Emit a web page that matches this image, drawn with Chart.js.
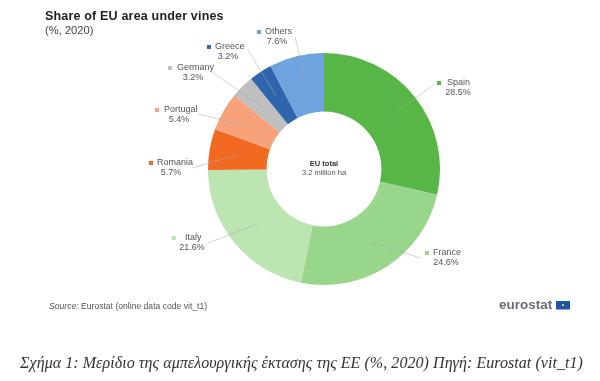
<!DOCTYPE html>
<html><head><meta charset="utf-8">
<style>html,body{margin:0;padding:0;background:#fff}#w{width:600px;height:381px;position:relative}canvas{display:block;filter:blur(0.5px)}</style>
<script src="https://cdn.jsdelivr.net/npm/chart.js@4/dist/chart.umd.min.js"></script>
</head><body><div id="w"><canvas id="c" width="600" height="381"></canvas></div>
<script>
const categories = ["Spain","France","Italy","Romania","Portugal","Germany","Greece","Others"];
const shares = [28.5,24.6,21.6,5.7,5.4,3.2,3.2,7.6];
const sliceColours = ["#57b645","#98d68b","#bce5b2","#f26a21","#f7a27a","#bfbfbf","#2e65ad","#6fa3df"];
const titleText = "Share of EU area under vines";
const subtitleText = "(%, 2020)";
const centreLines = ["EU total","3.2 million ha"];
const captionText = "Σχήμα 1: Μερίδιο της αμπελουργικής έκτασης της ΕΕ (%, 2020) Πηγή: Eurostat (vit_t1)";

const labelLayout = {
  Spain:   {m:[439,83], n:447, v:458, y:83,  via:[[433,85],[417,97]]},
  France:  {m:[427,253],n:433, v:446, y:253, via:[[420,258]]},
  Italy:   {m:[174,238],n:185, v:192, y:238, via:[[208,243]]},
  Romania: {m:[151,163],n:157, v:171, y:163, via:[[192,168]]},
  Portugal:{m:[157,110],n:164, v:179, y:110, via:[[198,114]]},
  Germany: {m:[170,68], n:177, v:193, y:68,  via:[[212,72]]},
  Greece:  {m:[209,47], n:215, v:228, y:47,  via:[[248,50]]},
  Others:  {m:[259,32], n:265, v:277, y:32,  via:[[295,37],[299,53]]}
};

const annotate = {
  id:"annotate",
  afterDraw(chart){
    const ctx = chart.ctx, arcs = chart.getDatasetMeta(0).data;
    const sans = '"Liberation Sans", Arial, sans-serif';
    ctx.save();
    ctx.textBaseline = "middle";
    categories.forEach((name,i)=>{
      const L = labelLayout[name], p = arcs[i].tooltipPosition();
      ctx.beginPath();
      ctx.moveTo(L.via[0][0],L.via[0][1]);
      L.via.slice(1).forEach(q=>ctx.lineTo(q[0],q[1]));
      ctx.lineTo(p.x,p.y);
      ctx.strokeStyle = "rgba(170,170,170,0.65)";
      ctx.lineWidth = 0.8;
      ctx.stroke();
    });
    ctx.font = "9px "+sans;
    categories.forEach((name,i)=>{
      const L = labelLayout[name];
      ctx.fillStyle = sliceColours[i];
      ctx.fillRect(L.m[0]-2,L.m[1]-2,4,4);
      ctx.fillStyle = "#555";
      ctx.textAlign = "left";
      ctx.fillText(name,L.n,L.y);
      ctx.textAlign = "center";
      ctx.fillText(shares[i].toFixed(1)+"%",L.v,L.y+10);
    });
    const a = arcs[0];
    ctx.textAlign = "center";
    ctx.fillStyle = "#333";
    ctx.font = "bold 7.5px "+sans;
    ctx.fillText(centreLines[0],a.x,a.y-5);
    ctx.fillStyle = "#555";
    ctx.font = "7.5px "+sans;
    ctx.fillText(centreLines[1],a.x,a.y+4);
    ctx.textAlign = "left";
    ctx.fillStyle = "#222";
    ctx.font = "bold 12.5px "+sans;
    ctx.letterSpacing = "0.18px";
    ctx.fillText(titleText,45,17);
    ctx.letterSpacing = "0px";
    ctx.fillStyle = "#444";
    ctx.font = "11.2px "+sans;
    ctx.fillText(subtitleText,45,31);
    ctx.fillStyle = "#555";
    ctx.font = "italic 8.6px "+sans;
    ctx.fillText("Source:",49,307);
    const w = ctx.measureText("Source: ").width;
    ctx.font = "8.6px "+sans;
    ctx.fillText("Eurostat (online data code vit_t1)",49+w,307);
    ctx.fillStyle = "#6a6f76";
    ctx.font = "bold 13.5px "+sans;
    ctx.fillText("eurostat",499,305);
    ctx.fillStyle = "#1f55a5";
    ctx.fillRect(556,301,14,8.5);
    ctx.fillStyle = "#d9c84a";
    ctx.fillRect(562,304,2,2);
    ctx.fillStyle = "#333";
    ctx.font = 'italic 16px "Liberation Serif", serif';
    const cw = ctx.measureText(captionText).width;
    ctx.letterSpacing = ((563-cw)/captionText.length).toFixed(3)+"px";
    ctx.fillText(captionText,20,364);
    ctx.restore();
  }
};

new Chart(document.getElementById("c"),{
  type:"doughnut",
  data:{labels:categories,datasets:[{data:shares,backgroundColor:sliceColours,borderColor:sliceColours,borderWidth:0,hoverOffset:0}]},
  options:{
    responsive:false,animation:false,cutout:"49.5%",rotation:0,
    layout:{padding:{left:208,right:160,top:53,bottom:96}},
    plugins:{legend:{display:false},tooltip:{enabled:false},title:{display:false}}
  },
  plugins:[annotate]
});
</script></body></html>
